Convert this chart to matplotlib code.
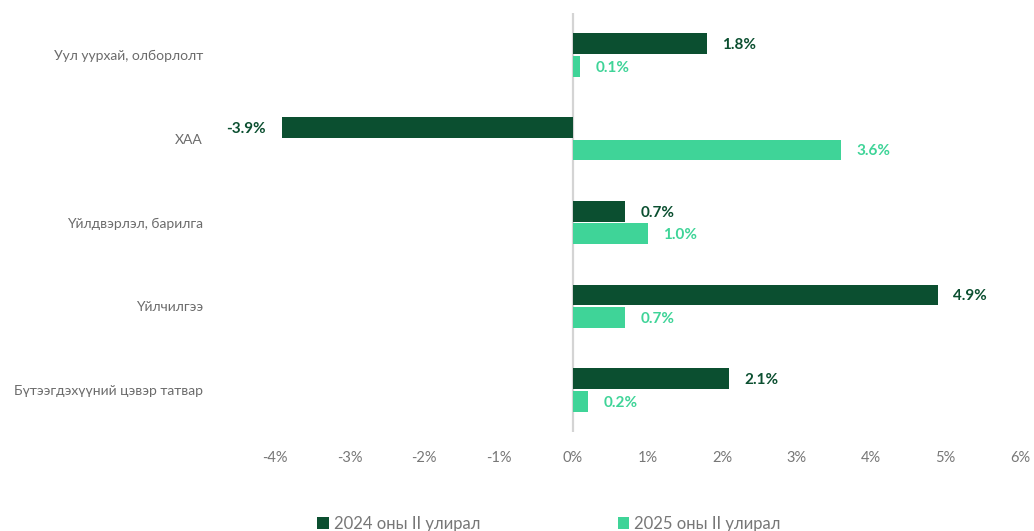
import matplotlib.pyplot as plt
import numpy as np

plt.rcParams['font.family'] = ['Lato', 'DejaVu Sans']

# Sector contributions to growth, percent
sectors = ['Уул уурхай, олборлолт', 'ХАА', 'Үйлдвэрлэл, барилга',
           'Үйлчилгээ', 'Бүтээгдэхүүний цэвэр татвар']
q2_2024 = [1.8, -3.9, 0.7, 4.9, 2.1]
q2_2025 = [0.1, 3.6, 1.0, 0.7, 0.2]
series_names = ['2024 оны II улирал', '2025 оны II улирал']
xticks = [-4, -3, -2, -1, 0, 1, 2, 3, 4, 5, 6]

dark = '#0b4f30'
light = '#3fd498'
grey = '#777777'

fig = plt.figure(figsize=(10.34, 5.31), dpi=100)
ax = fig.add_axes([275 / 1034, 1 - 432 / 531, 745 / 1034, 419 / 531])

y = np.arange(len(sectors))
h = 0.25
off = 0.135
b1 = ax.barh(y - off, q2_2024, height=h, color=dark, label=series_names[0], zorder=2)
b2 = ax.barh(y + off, q2_2025, height=h, color=light, label=series_names[1], zorder=2)

# value labels next to bar ends
for bars, vals, col in [(b1, q2_2024, dark), (b2, q2_2025, light)]:
    for bar, v in zip(bars, vals):
        cy = bar.get_y() + bar.get_height() / 2
        if v >= 0:
            ax.annotate(f'{v:.1f}%', (v, cy), xytext=(11, -1), textcoords='offset points',
                        ha='left', va='center', color=col, fontsize=11, fontweight='bold')
        else:
            ax.annotate(f'{v:.1f}%', (v, cy), xytext=(-12, -1), textcoords='offset points',
                        ha='right', va='center', color=col, fontsize=11, fontweight='bold')

ax.axvline(0, color='#d4d4d4', linewidth=1.6, zorder=1)

ax.set_xlim(-4, 6)
ax.set_ylim(len(sectors) - 0.5, -0.5)
ax.set_xticks(xticks)
ax.set_xticklabels([f'{t}%' for t in xticks])
ax.set_yticks(y)
ax.set_yticklabels(sectors)
ax.tick_params(axis='x', length=0, pad=14, labelsize=10.5, labelcolor=grey)
ax.tick_params(axis='y', length=0, pad=52, labelsize=10, labelcolor='#6b6b6b')
for s in ax.spines.values():
    s.set_visible(False)

fig.legend(handles=[b1, b2], loc='lower center', bbox_to_anchor=(0.531, -0.03),
           ncol=2, frameon=False, fontsize=12, labelcolor=grey,
           handlelength=0.7, handleheight=0.7, handletextpad=0.3, columnspacing=8.25)

fig.savefig('out.png', dpi=100)
